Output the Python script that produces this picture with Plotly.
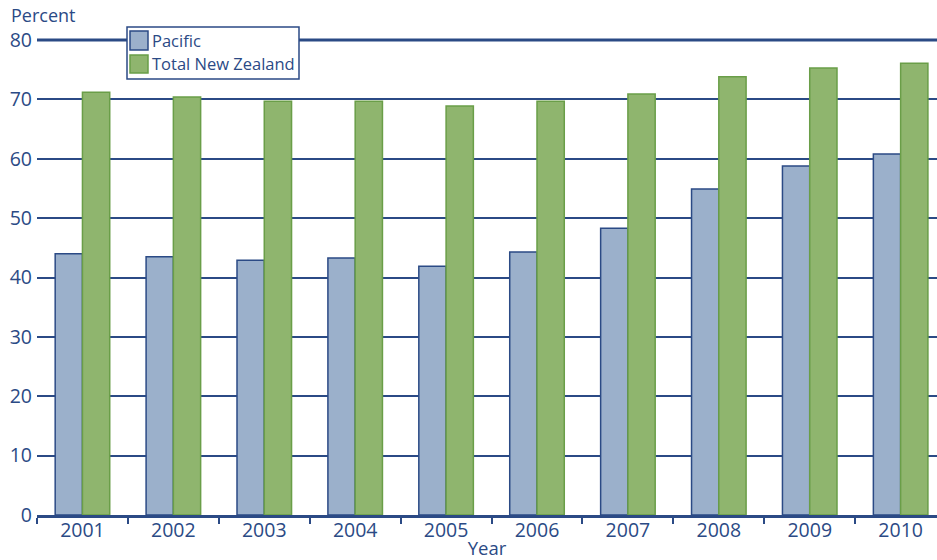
import plotly.graph_objects as go

years = ["2001", "2002", "2003", "2004", "2005", "2006", "2007", "2008", "2009", "2010"]
pacific = [44.0, 43.5, 42.9, 43.3, 41.9, 44.3, 48.3, 54.9, 58.8, 60.8]
total_nz = [71.2, 70.4, 69.7, 69.7, 68.9, 69.7, 70.9, 73.8, 75.3, 76.1]
series_names = ["Pacific", "Total New Zealand"]
y_ticks = [0, 10, 20, 30, 40, 50, 60, 70, 80]

NAVY = "#2b4a85"
PAC_FILL = "#9bb0cb"
NZ_FILL = "#8fb56e"
NZ_LINE = "#6a9e48"
FONT = "Open Sans"

W, H = 937, 560

fig = go.Figure()
fig.add_trace(go.Bar(x=years, y=pacific, name=series_names[0],
                     marker=dict(color=PAC_FILL, line=dict(color=NAVY, width=1.5)),
                     showlegend=False))
fig.add_trace(go.Bar(x=years, y=total_nz, name=series_names[1],
                     marker=dict(color=NZ_FILL, line=dict(color=NZ_LINE, width=1.5)),
                     showlegend=False))

fig.update_layout(
    width=W, height=H,
    margin=dict(l=37, r=0, t=40, b=45),
    paper_bgcolor="white", plot_bgcolor="white",
    barmode="group", bargap=0.4, bargroupgap=0,
    font=dict(family=FONT, color=NAVY, size=19),
    xaxis=dict(
        type="category", range=[-0.5, 9.4],
        showline=True, linecolor=NAVY, linewidth=3,
        ticks="outside", tickson="boundaries", ticklen=6, tickwidth=1.5, tickcolor=NAVY,
        showgrid=False,
        tickfont=dict(size=19.5, color=NAVY, family=FONT),
        ticklabelstandoff=-4,
        title=dict(text="Year", font=dict(size=18.5, color=NAVY, family=FONT), standoff=0),
    ),
    yaxis=dict(
        range=[0, 80], tickvals=y_ticks,
        showgrid=True, gridcolor=NAVY, gridwidth=1.5,
        zeroline=False, showline=False, ticks="",
        tickfont=dict(size=19.5, color=NAVY, family=FONT),
        ticklabelstandoff=4,
    ),
)

# thicker top gridline at 80
fig.add_shape(type="line", xref="paper", yref="paper", x0=0, x1=1, y0=1, y1=1,
              line=dict(color=NAVY, width=3), layer="above")

fig.add_annotation(text="Percent", xref="paper", yref="paper", x=-28/900, y=1 + 25/475,
                   xanchor="left", yanchor="middle", showarrow=False,
                   font=dict(size=18, color=NAVY, family=FONT))

# manual legend (pixel -> paper conversion)
L, T = 37, 40
PW, PH = 900, 475

def px(x):
    return (x - L) / PW

def py(y):
    return 1 - (y - T) / PH

fig.add_shape(type="rect", xref="paper", yref="paper",
              x0=px(127), x1=px(299), y0=py(79), y1=py(27),
              fillcolor="white", line=dict(color=NAVY, width=1.5), layer="above")
fig.add_shape(type="rect", xref="paper", yref="paper",
              x0=px(130), x1=px(148), y0=py(50), y1=py(31),
              fillcolor=PAC_FILL, line=dict(color=NAVY, width=1.5), layer="above")
fig.add_shape(type="rect", xref="paper", yref="paper",
              x0=px(130), x1=px(148), y0=py(73), y1=py(55),
              fillcolor=NZ_FILL, line=dict(color=NZ_LINE, width=1.5), layer="above")
fig.add_annotation(text=series_names[0], xref="paper", yref="paper", x=px(150), y=py(41),
                   xanchor="left", yanchor="middle", showarrow=False,
                   font=dict(size=16.5, color=NAVY, family=FONT))
fig.add_annotation(text=series_names[1], xref="paper", yref="paper", x=px(150), y=py(64),
                   xanchor="left", yanchor="middle", showarrow=False,
                   font=dict(size=16.5, color=NAVY, family=FONT))

fig.write_html("out.html")
